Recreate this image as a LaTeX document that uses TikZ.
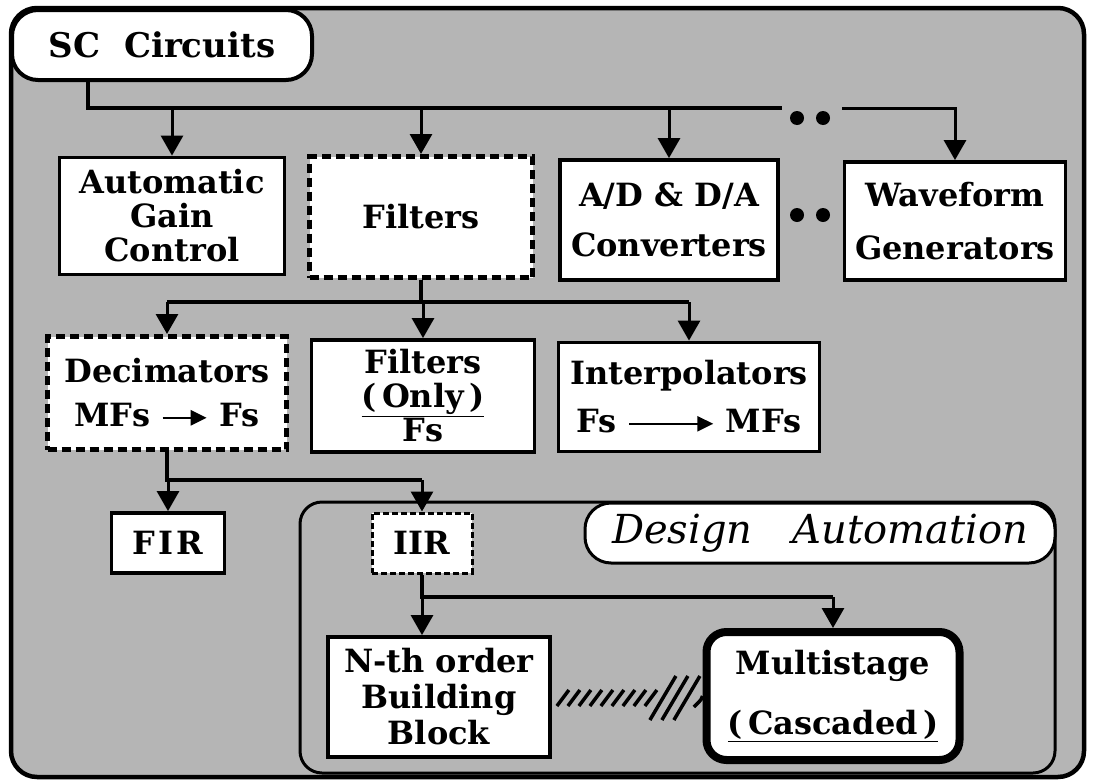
\documentclass[tikz,border=0pt]{standalone}
\usepackage{fontspec}
\setmainfont{DejaVu Serif}
\usetikzlibrary{positioning,arrows.meta,calc}
\definecolor{halftone}{gray}{0.71}
\newcommand{\rateto}[1]{\tikz[baseline=-0.55ex]\draw[line width=2.6pt,-{Triangle[length=16pt,width=15pt]}] (0pt,0pt) -- (#1,0pt);}
\tikzset{
  outer/.style={draw,line width=4.5pt,rounded corners=26pt,fill=halftone},
  inner/.style={draw,line width=3pt,rounded corners=22pt},
  pill/.style={draw,line width=4pt,rounded corners=26pt,fill=white,inner sep=0pt},
  blk/.style={draw,line width=3.8pt,fill=white,align=center,inner sep=0pt,
    font=\bfseries\fontsize{32}{#1}\selectfont},
  blk/.default=36,
  dblk/.style={blk=#1,line width=5pt,dash pattern=on 9pt off 5pt},
  dblk/.default=36,
  bus/.style={line width=4.5pt},
  arr/.style={line width=3pt,-{Triangle[length=20pt,width=22pt]}},
  hatch/.style={line width=3.5pt},
}
\begin{document}
\begin{tikzpicture}[x=1pt,y=-1pt]
  \useasboundingbox (0,0) rectangle (1093,782);
  % shaded frame and the design automation area
  \draw[outer] (11,8) rectangle (1084,777);
  \draw[inner] (300,502) rectangle (1055,773);

  \node[pill,minimum width=300,minimum height=70,font=\bfseries\fontsize{34}{40}\selectfont] (sc) at (162,45) {SC\ \ Circuits};
  \node[pill,line width=3pt,minimum width=470,minimum height=60,font=\itshape\fontsize{40}{44}\selectfont] (da) at (820,533) {Design\quad Automation};

  % first row
  \node[blk=34,minimum width=225,minimum height=117] (agc) at (172,216) {Automatic\\Gain\\Control};
  \node[dblk,minimum width=223,minimum height=121] (filt) at (421,217) {Filters};
  \node[blk=50,minimum width=218,minimum height=120] (adda) at (669,220) {A/D \& D/A\\Converters};
  \node[blk=53,minimum width=221,minimum height=118] (wave) at (955,221) {Waveform\\Generators};

  % second row
  \node[dblk=44,minimum width=239,minimum height=113] (dec) at (167,393) {Decimators\\MFs \rateto{44pt} Fs};
  \node[blk=34,minimum width=223,minimum height=112] (fonly) at (423,396) {Filters\\\underline{(\,Only\,)}\\Fs};
  \node[blk=48,minimum width=261,minimum height=109] (interp) at (689,397) {Interpolators\\Fs \rateto{84pt} MFs};

  % third row
  \node[blk,minimum width=113,minimum height=60] (fir) at (168,543) {F\hspace{3pt}I\hspace{3pt}R};
  \node[blk,line width=3pt,dash pattern=on 6pt off 3pt,minimum width=100,minimum height=60] (iir) at (422,543) {IIR};
  \node[blk=36,minimum width=222,minimum height=120] (nth) at (439,697) {N-th order\\Building\\Block};
  \node[blk=60,line width=8pt,rounded corners=20pt,minimum width=253,minimum height=128] (multi) at (833,696) {Multistage\\\underline{(\,Cascaded\,)}};

  % connectors from SC Circuits
  \coordinate (busL) at (88,108);
  \coordinate (busM) at (782,108);
  \coordinate (busR) at (842,108);
  \draw[bus] (sc.south -| busL) |- (busM);
  \draw[bus,arr] (busR) -| (wave.north);
  \foreach \n in {agc,filt,adda}
    \draw[arr] (\n.north |- busL) -- (\n.north);
  \fill (797,118) circle (7) (823,118) circle (7);
  \fill (797,215) circle (7) (823,215) circle (7);

  % connectors from Filters
  \coordinate (splitA) at (0,302);
  \draw[bus] (filt.south) -- (filt.south |- splitA);
  \draw[bus] (dec.north |- splitA) -- (interp.north |- splitA);
  \foreach \n in {dec,fonly,interp}
    \draw[arr] (\n.north |- splitA) -- (\n.north);

  % connectors from Decimators
  \coordinate (splitB) at (0,480);
  \draw[bus] (dec.south) -- (dec.south |- splitB) -- (iir.north |- splitB);
  \draw[arr] (fir.north |- splitB) -- (fir.north);
  \draw[arr] (iir.north |- splitB) -- (iir.north);

  % connectors from IIR
  \coordinate (splitC) at (0,597);
  \draw[bus] (iir.south) -- (iir.south |- splitC) -- (multi.north |- splitC);
  \draw[arr] (iir.south |- splitC) -- (iir.south |- nth.north);
  \draw[arr] (multi.north |- splitC) -- (multi.north);

  % hatched link between building block and cascade
  \foreach \i in {0,...,8}
    \draw[hatch] ($(nth.east)+(5+\i*11,9)$) -- ++(12,-16);
  \foreach \i in {0,1,2}
    \draw[hatch] ($(nth.east)+(98+\i*12,23)$) -- ++(26,-44);
  \draw[hatch] ($(nth.east)+(142,10)$) .. controls ($(nth.east)+(150,2)$) .. (multi.west);
\end{tikzpicture}
\end{document}
